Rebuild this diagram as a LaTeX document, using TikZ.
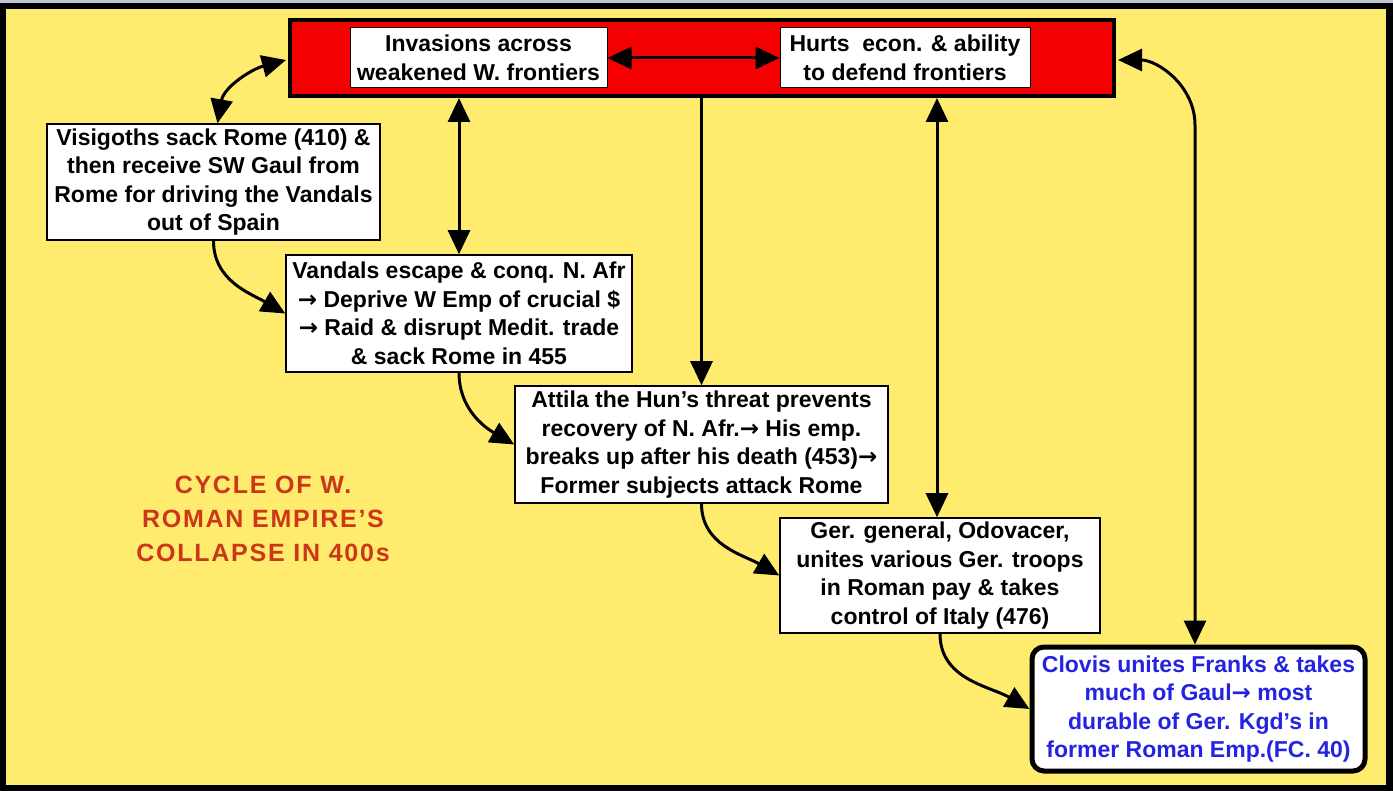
\documentclass[tikz,border=0pt]{standalone}
\usepackage{fontspec}
\setmainfont{Liberation Sans}
\newfontfamily\arrowfont{DejaVu Sans}
\newfontfamily\titlefont[LetterSpace=7]{Liberation Sans}
\usetikzlibrary{arrows.meta,calc}
\definecolor{bgyellow}{RGB}{255,236,110}
\definecolor{barred}{RGB}{245,0,0}
\definecolor{titlered}{RGB}{205,55,25}
\definecolor{clovisblue}{RGB}{35,35,225}
\definecolor{stripgray}{RGB}{195,198,215}
\newcommand{\rarr}{{\arrowfont\bfseries →}}
\begin{document}
\begin{tikzpicture}[x=1pt,y=-1pt,
  box/.style={draw=black, line width=1.5pt, fill=white, align=center, inner sep=0pt,
    font=\fontsize{23}{28.5}\selectfont\bfseries},
  arr/.style={line width=3pt, -{Triangle[length=24pt,width=22pt]}},
  darr/.style={line width=3pt, {Triangle[length=24pt,width=22pt]}-{Triangle[length=24pt,width=22pt]}},
]
\useasboundingbox (0,0) rectangle (1393,791);
% background and frame
\fill[stripgray] (0,0) rectangle (1393,4);
\fill[black] (0,3) rectangle (1393,791);
\fill[bgyellow] (6,9) rectangle (1386,785);
% red bar
\node[draw=black, line width=4pt, fill=barred, minimum width=824pt, minimum height=76pt, inner sep=0pt] (red) at (702,58) {};
\node[box, line width=1pt, minimum width=257pt, minimum height=60pt] (inv) at (478.5,58) {Invasions across\\weakened W. frontiers};
\node[box, line width=1pt, minimum width=250pt, minimum height=60pt] (hurts) at (905,58) {Hurts\ \ econ. \& ability\\to defend frontiers};
% boxes
\node[box, minimum width=333pt, minimum height=116pt] (vis) at (213.5,182) {Visigoths sack Rome (410) \&\\then receive SW Gaul from\\Rome for driving the Vandals\\out of Spain};
\node[box, minimum width=346pt, minimum height=117pt] (van) at (459,313.5) {Vandals escape \& conq. N. Afr\\\rarr{} Deprive W Emp of crucial \$\\\rarr{} Raid \& disrupt Medit. trade\\\& sack Rome in 455};
\node[box, minimum width=373pt, minimum height=117pt] (att) at (701.5,444.5) {Attila the Hun’s threat prevents\\recovery of N. Afr.\rarr{} His emp.\\breaks up after his death (453)\rarr\\Former subjects attack Rome};
\node[box, minimum width=320pt, minimum height=115pt] (ger) at (940,575.5) {Ger. general, Odovacer,\\unites various Ger. troops\\in Roman pay \& takes\\control of Italy (476)};
\node[box, line width=5pt, rounded corners=12pt, text=clovisblue, minimum width=333pt, minimum height=124pt] (clo) at (1198.5,709) {Clovis unites Franks \& takes\\much of Gaul\rarr{} most\\durable of Ger. Kgd’s in\\former Roman Emp.(FC. 40)};
% title
\node[align=center, text=titlered, font=\titlefont\fontsize{25}{34}\selectfont\bfseries] (title) at (263,519) {CYCLE OF W.\\ROMAN EMPIRE’S\\COLLAPSE IN 400s};
% connectors
\draw[darr] (inv.east) -- (hurts.west);
\coordinate (redL) at ($(red.west)+(-2,2)$);
\draw[darr] ($(vis.north)+(4,0)$) to[out=80,in=195] (redL);
\draw[darr] (van.north) -- (van.north |- red.south);
\draw[arr] (att.north |- red.south) -- (att.north);
\draw[darr] ($(ger.north)+(-3,0)$) -- ($(ger.north |- red.south)+(-3,0)$);
\coordinate (redR) at ($(red.east)+(2,2)$);
\coordinate (bend) at (1195,125);
\draw[darr] (redR) to[out=0,in=90] (bend) -- (bend |- clo.north);
\draw[arr] (vis.south) to[out=-90,in=150] (van.west);
\draw[arr] (van.south) to[out=-90,in=150] (att.west);
\draw[arr] (att.south) to[out=-90,in=150] (ger.west);
\draw[arr] (ger.south) to[out=-90,in=150] (clo.west);
\end{tikzpicture}
\end{document}
